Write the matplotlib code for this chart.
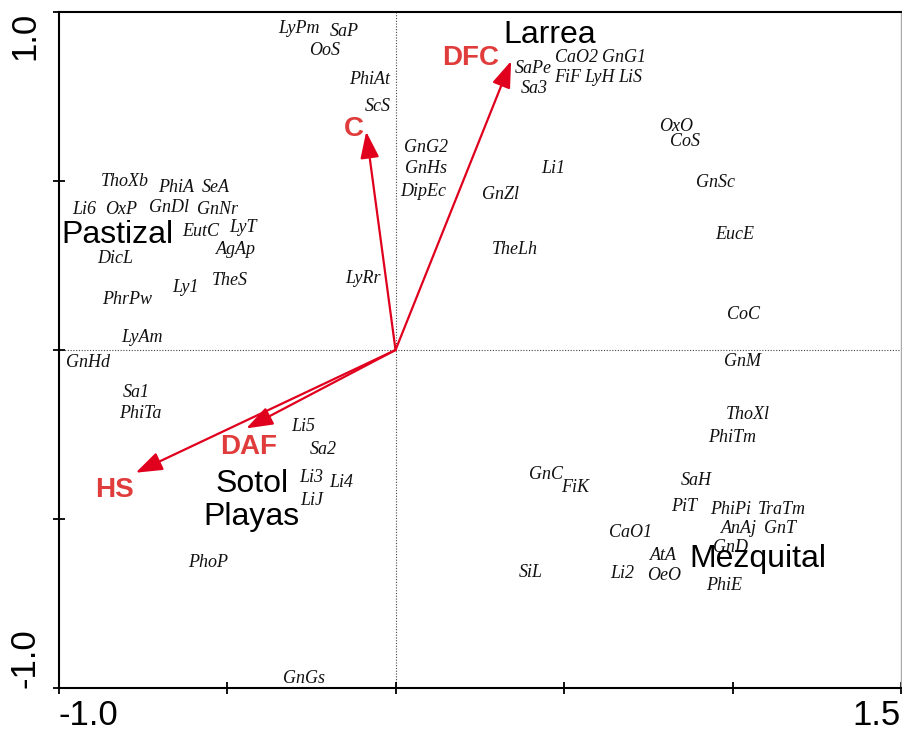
import matplotlib
matplotlib.use("Agg")
import matplotlib.pyplot as plt

# ================= DATA =================

# species scores (axis 1, axis 2)
species = [
    "LyPm", "SaP", "OoS", "PhiAt", "ScS", "GnG2", "GnHs", "DipEc",
    "SaPe", "CaO2", "GnG1", "FiF", "LyH", "LiS", "Sa3", "OxO", "CoS", "Li1",
    "ThoXb", "PhiA", "SeA", "Li6", "OxP", "GnDl", "GnNr", "EutC", "LyT", "AgAp",
    "DicL", "TheS", "Ly1", "PhrPw", "LyAm", "LyRr", "GnZl", "GnSc", "EucE",
    "TheLh", "CoC", "GnM", "GnHd", "Sa1", "PhiTa", "Li5", "Sa2", "Li3", "Li4",
    "LiJ", "ThoXl", "PhiTm", "GnC", "FiK", "SaH", "PiT", "PhiPi", "TraTm",
    "AnAj", "GnT", "CaO1", "GnD", "AtA", "SiL", "Li2", "OeO", "PhiE", "PhoP",
    "GnGs",
]
sp_x = [
    -0.288, -0.151, -0.211, -0.077, -0.053, 0.089, 0.089, 0.083,
    0.409, 0.537, 0.679, 0.510, 0.605, 0.697, 0.412, 0.833, 0.860, 0.469,
    -0.804, -0.650, -0.534, -0.925, -0.813, -0.673, -0.528, -0.578, -0.454, -0.474,
    -0.833, -0.492, -0.623, -0.798, -0.753, -0.098, 0.311, 0.949, 1.008,
    0.353, 1.032, 1.029, -0.913, -0.768, -0.756, -0.273, -0.214, -0.249, -0.160,
    -0.249, 1.044, 0.999, 0.448, 0.534, 0.893, 0.857, 0.993, 1.145,
    1.020, 1.142, 0.697, 0.993, 0.795, 0.400, 0.673, 0.798, 0.976, -0.555,
    -0.273,
]
sp_y = [
    0.950, 0.941, 0.885, 0.799, 0.719, 0.598, 0.536, 0.470,
    0.834, 0.864, 0.864, 0.805, 0.805, 0.805, 0.775, 0.660, 0.618, 0.538,
    0.500, 0.482, 0.482, 0.417, 0.417, 0.423, 0.417, 0.352, 0.361, 0.296,
    0.272, 0.207, 0.186, 0.148, 0.038, 0.213, 0.459, 0.497, 0.343,
    0.296, 0.104, -0.033, -0.038, -0.127, -0.189, -0.225, -0.293, -0.376, -0.393,
    -0.444, -0.192, -0.260, -0.367, -0.408, -0.385, -0.464, -0.473, -0.473,
    -0.527, -0.527, -0.541, -0.583, -0.607, -0.657, -0.660, -0.666, -0.698, -0.630,
    -0.973,
]

# environmental variables (arrow tips) and their label positions
env = ["DFC", "C", "DAF", "HS"]
env_x = [0.343, -0.087, -0.443, -0.771]
env_y = [0.855, 0.646, -0.232, -0.363]
env_lx = [0.222, -0.125, -0.436, -0.833]
env_ly = [0.864, 0.654, -0.287, -0.414]

# vegetation types
groups = ["Larrea", "Pastizal", "Sotol", "Playas", "Mezquital"]
grp_x = [0.457, -0.824, -0.427, -0.427, 1.074]
grp_y = [0.932, 0.340, -0.396, -0.494, -0.618]

xticks = [-1.0, -0.5, 0.0, 0.5, 1.0, 1.5]
xtick_labels = ["-1.0", "", "", "", "", "1.5"]
yticks = [-1.0, -0.5, 0.0, 0.5, 1.0]
ytick_labels = ["-1.0", "", "", "", "1.0"]

# ================= DRAW =================

fig = plt.figure(figsize=(9.02, 7.33), dpi=100)
ax = fig.add_axes([0.0649, 0.0614, 0.934, 0.9222])

ax.set_xlim(-1.0, 1.5)
ax.set_ylim(-1.0, 1.0)

ax.axhline(0, color="#444444", lw=0.8, ls=(0, (1, 1.5)), zorder=1)
ax.axvline(0, color="#444444", lw=0.8, ls=(0, (1, 1.5)), zorder=1)

arrow_col = "#e0001e"
label_col = "#e03c3c"

for i in range(len(env)):
    ax.annotate(
        "",
        xy=(env_x[i], env_y[i]),
        xytext=(0, 0),
        arrowprops=dict(
            arrowstyle="-|>,head_length=0.9,head_width=0.32",
            color=arrow_col,
            lw=1.6,
            mutation_scale=18,
            shrinkA=0,
            shrinkB=0,
        ),
        zorder=3,
    )
    ax.text(env_lx[i], env_ly[i], env[i], color=label_col,
            fontsize=20, fontweight="bold", family="Liberation Sans",
            ha="center", va="center", zorder=4)

for i in range(len(species)):
    ax.text(sp_x[i], sp_y[i], species[i], fontsize=13, style="italic",
            family="Liberation Serif", color="#111111",
            ha="center", va="center", zorder=4)

for i in range(len(groups)):
    ax.text(grp_x[i], grp_y[i], groups[i], fontsize=23,
            family="Liberation Sans", color="black",
            ha="center", va="center", zorder=5)

# axes / ticks
ax.set_xticks(xticks)
ax.set_xticklabels(xtick_labels, fontsize=25, family="Liberation Sans")
ax.set_yticks(yticks)
ax.set_yticklabels(ytick_labels, fontsize=25, family="Liberation Sans",
                   rotation=90)
ax.tick_params(direction="inout", length=8, width=1.3)
ax.tick_params(axis="x", pad=4)
ax.tick_params(axis="y", pad=8)

xl = ax.get_xticklabels()
xl[0].set_ha("left")
xl[-1].set_ha("right")
yl = ax.get_yticklabels()
yl[0].set_va("bottom")
yl[-1].set_va("top")

for side in ["left", "bottom", "top"]:
    ax.spines[side].set_linewidth(1.5)
    ax.spines[side].set_color("black")
ax.spines["right"].set_linewidth(1.0)
ax.spines["right"].set_color("#aaaaaa")

fig.savefig("out.png", dpi=100)
plt.close(fig)
